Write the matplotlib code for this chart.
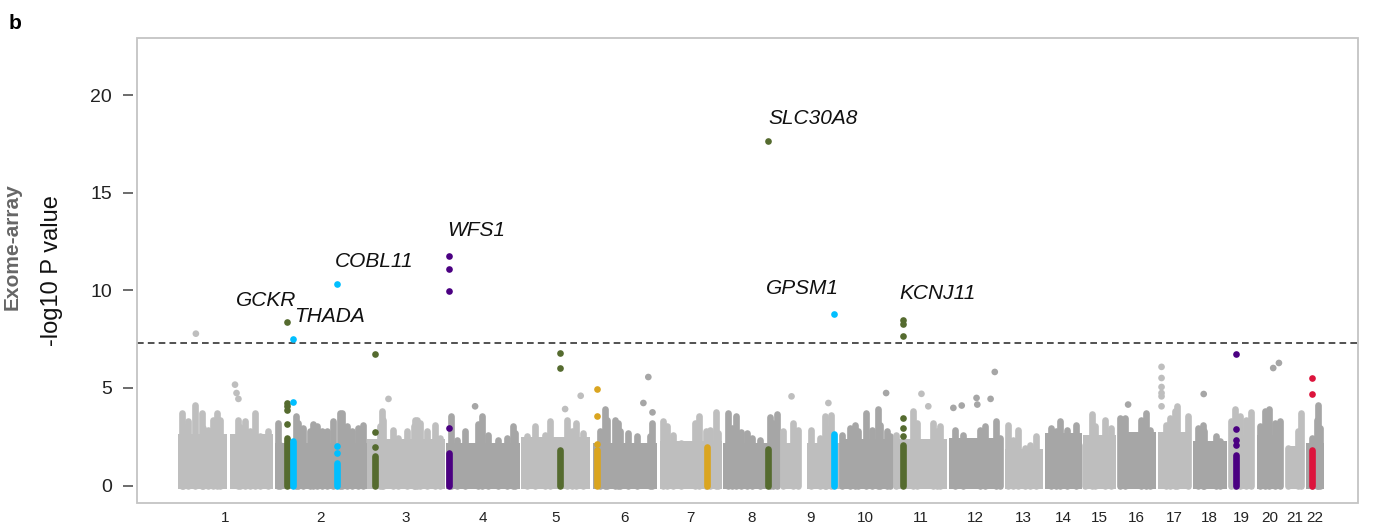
import numpy as np
import matplotlib
matplotlib.use('Agg')
import matplotlib.pyplot as plt
from matplotlib.patches import Rectangle

plt.rcParams['font.family'] = ['Liberation Sans', 'DejaVu Sans']

# chromosomes, cumulative position (~Mb)
chr_names = [str(i) for i in range(1, 23)]
chr_start = [0, 255, 497, 705, 903, 1092, 1268, 1434, 1590, 1742, 1884,
             2029, 2176, 2282, 2382, 2474, 2579, 2671, 2766, 2839, 2918, 2968]
chr_end = [250, 497, 703, 900, 1084, 1261, 1432, 1584, 1742, 1879, 2024,
           2171, 2277, 2379, 2469, 2574, 2666, 2761, 2832, 2908, 2963, 3016]
# top of the dense band of variants
chr_base = [2.45, 2.0, 2.2, 2.0, 2.3, 2.0, 2.1, 2.0, 2.0, 2.2, 2.2,
            2.25, 1.7, 2.5, 2.4, 2.6, 2.6, 2.1, 2.4, 2.4, 1.85, 2.0]
chr_gaps = [(129, 137), (1637, 1655)]

# ragged upper edge of the dense band
sky_x = [10, 14, 27, 45, 62, 67, 80, 93, 102, 110, 159, 163, 176, 189, 203, 216, 238,
         264, 268, 310, 317, 330, 348, 356, 365, 378, 392, 409, 426, 431, 444, 457, 475, 488,
         532, 537, 540, 567, 580, 602, 620, 624, 628, 637, 655, 676, 690,
         718, 734, 756, 790, 801, 816, 843, 865, 882, 886,
         918, 940, 966, 979, 1023, 1036, 1047, 1067,
         1110, 1124, 1128, 1150, 1159, 1163, 1185, 1207, 1242, 1247,
         1277, 1286, 1303, 1325, 1361, 1371, 1391, 1400, 1416, 1422,
         1448, 1457, 1470, 1483, 1497, 1510, 1532, 1558, 1567, 1577,
         1593, 1620, 1633, 1665, 1690, 1703, 1707, 1718,
         1747, 1769, 1782, 1790, 1812, 1826, 1843, 1848, 1865, 1874,
         1891, 1935, 1944, 1988, 1997, 2006,
         2045, 2067, 2111, 2124, 2153, 2163,
         2185, 2198, 2212, 2229, 2242, 2259,
         2299, 2312, 2323, 2339, 2363,
         2387, 2406, 2413, 2439, 2457,
         2479, 2493, 2536, 2548, 2558,
         2602, 2611, 2624, 2629, 2659,
         2685, 2698, 2702, 2733, 2742,
         2773, 2782, 2795, 2812, 2824,
         2848, 2861, 2872, 2887, 2902,
         2922, 2949, 2955,
         2984, 2997, 3001, 3005]
sky_y = [3.72, 3.04, 3.3, 4.15, 3.72, 2.95, 2.87, 3.38, 3.72, 3.38, 3.38, 3.0, 3.3, 2.78, 3.72, 2.53, 2.78,
         3.2, 2.1, 3.55, 3.2, 2.95, 2.78, 3.17, 3.04, 2.8, 2.78, 3.3, 3.72, 3.72, 3.04, 2.78, 2.95, 3.12,
         3.04, 3.8, 3.38, 2.87, 2.44, 2.78, 3.04, 3.38, 3.38, 3.2, 2.78, 3.12, 2.44,
         3.58, 2.35, 2.78, 3.17, 3.55, 2.61, 2.35, 2.44, 3.07, 2.7,
         2.53, 3.04, 2.6, 3.3, 3.38, 2.78, 3.2, 2.7,
         2.8, 3.9, 3.38, 3.38, 3.2, 2.78, 2.7, 2.53, 2.53, 3.2,
         3.3, 3.04, 2.6, 2.18, 3.2, 3.58, 2.8, 2.87, 3.75, 2.7,
         3.72, 2.95, 3.58, 2.75, 2.7, 2.45, 2.35, 3.52, 3.2, 3.69,
         2.78, 3.2, 2.87, 2.87, 2.45, 3.55, 2.95, 3.63,
         2.6, 2.95, 3.12, 2.78, 3.72, 2.87, 3.9, 3.12, 2.78, 2.53,
         2.6, 3.8, 3.2, 3.2, 2.78, 3.04,
         2.87, 2.6, 2.87, 3.04, 3.3, 2.44,
         3.12, 2.35, 2.87, 1.93, 2.1, 2.53,
         2.95, 2.78, 3.3, 2.87, 3.12,
         2.1, 3.69, 3.04, 3.38, 2.95,
         3.46, 3.46, 3.38, 3.72, 2.87,
         3.12, 3.46, 3.8, 4.06, 3.55,
         2.95, 3.12, 2.78, 2.53, 2.28,
         3.3, 3.9, 3.55, 3.38, 3.75,
         3.04, 3.8, 3.9, 3.2, 3.3,
         1.93, 2.78, 3.72,
         2.44, 3.38, 4.15, 2.95]

# single grey variants above the band
out_x = [47, 150, 154, 159, 554, 782, 1019, 1060, 1225, 1238, 1249, 1615, 1712, 1864,
         1957, 1975, 2041, 2063, 2102, 2104, 2139, 2150, 2501,
         2589, 2589, 2589, 2589, 2589, 2589, 2700, 2883, 2898]
out_y = [7.78, 5.17, 4.74, 4.44, 4.44, 4.06, 3.92, 4.6, 4.23, 5.56, 3.75, 4.57, 4.23, 4.74,
         4.7, 4.06, 3.98, 4.1, 4.49, 4.15, 4.44, 5.82, 4.15,
         6.08, 5.51, 5.05, 4.74, 4.57, 4.06, 4.69, 6.02, 6.28]

# highlighted loci
hit_x = [286, 302, 418, 518, 714, 1005, 1103, 1393, 1554, 1727, 1909, 2786, 2986]
hit_color = ['#556B2F', '#00BFFF', '#00BFFF', '#556B2F', '#4B0082', '#556B2F', '#DAA520',
             '#DAA520', '#556B2F', '#00BFFF', '#556B2F', '#4B0082', '#DC143C']
hit_solid = [2.45, 2.27, 1.15, 1.5, 1.67, 1.84, 1.84, 1.98, 1.88, 2.66, 2.1, 1.59, 1.84]
hit_points = [[3.17, 3.89, 4.1, 4.25, 8.36],
              [4.3, 7.51],
              [1.67, 2.05, 10.34],
              [1.98, 2.73, 6.76],
              [2.95, 9.95, 11.1, 11.75],
              [6.03, 6.8],
              [2.15, 3.55, 4.95],
              [],
              [17.62],
              [8.8],
              [2.52, 2.95, 3.47, 7.68, 8.3, 8.5],
              [2.1, 2.36, 2.92, 6.72],
              [4.71, 5.51]]

gene_names = ['GCKR', 'THADA', 'COBL11', 'WFS1', 'SLC30A8', 'GPSM1', 'KCNJ11']
gene_x = [153, 305, 413, 708, 1555, 1548, 1898]
gene_y = [9.5, 8.65, 11.5, 13.05, 18.8, 10.1, 9.83]

threshold = 7.3

light, dark = '#BEBEBE', '#A6A6A6'
lw = 4.8          # marker diameter in points
r = 0.17          # marker radius in y units

fig = plt.figure(figsize=(13.81, 5.24), dpi=100)
ax = fig.add_axes([0.0992, 0.0401, 0.8841, 0.8874])

def shade(x):
    i = np.searchsorted(chr_start, x, side='right') - 1
    return light if i % 2 == 0 else dark

# dense band per chromosome
for i in range(22):
    segs = [(chr_start[i], chr_end[i])]
    for g0, g1 in chr_gaps:
        if chr_start[i] < g0 < chr_end[i]:
            segs = [(chr_start[i], g0), (g1, chr_end[i])]
    c = light if i % 2 == 0 else dark
    for s, e in segs:
        ax.add_patch(Rectangle((s, -r), e - s, chr_base[i] + 2 * r,
                               facecolor=c, edgecolor='none', zorder=1))

sky_c = [shade(x) for x in sky_x]
ax.vlines(sky_x, 0, sky_y, colors=sky_c, linewidth=lw, capstyle='round', zorder=1.5)
ax.scatter(out_x, out_y, s=lw ** 2, c=[shade(x) for x in out_x], linewidths=0, zorder=2)

ax.axhline(threshold, color='#333333', linestyle=(0, (4, 2.5)), linewidth=1.2, zorder=2.5)

for x, c, top, pts in zip(hit_x, hit_color, hit_solid, hit_points):
    ax.vlines(x, 0, top, colors=c, linewidth=lw, capstyle='round', zorder=3)
    ax.scatter([x] * len(pts), pts, s=lw ** 2, color=c, linewidths=0, zorder=3)

for name, x, y in zip(gene_names, gene_x, gene_y):
    ax.text(x, y, name, fontsize=15, fontstyle='italic', ha='left', va='center', color='#111111')

ax.set_xlim(-108, 3106)
ax.set_ylim(-0.89, 22.92)

centers = [(s + e) / 2 for s, e in zip(chr_start, chr_end)]
ax.set_xticks(centers, chr_names)
ax.set_yticks([0, 5, 10, 15, 20])
ax.tick_params(axis='x', length=0, pad=6, labelsize=11, labelcolor='#222222')
ax.tick_params(axis='y', length=7, width=1.1, pad=8, labelsize=14, color='#444444',
               labelcolor='#222222')

for sp in ax.spines.values():
    sp.set_visible(False)
ax.spines['left'].set_position(('outward', 3))
ax.add_patch(Rectangle((0, 0), 1, 1, transform=ax.transAxes, fill=False,
                       edgecolor='#C4C4C4', linewidth=1.3, clip_on=False, zorder=5))

fig.text(0.0377, 0.483, '-log10 P value', rotation=90, ha='center', va='center',
         fontsize=17, color='#111111')
fig.text(0.0087, 0.529, 'Exome-array', rotation=90, ha='center', va='center',
         fontsize=15, fontweight='bold', color='#666666')
fig.text(0.006, 0.955, 'b', fontsize=15, fontweight='bold', ha='left', va='center')

fig.savefig('out.png', dpi=100)
